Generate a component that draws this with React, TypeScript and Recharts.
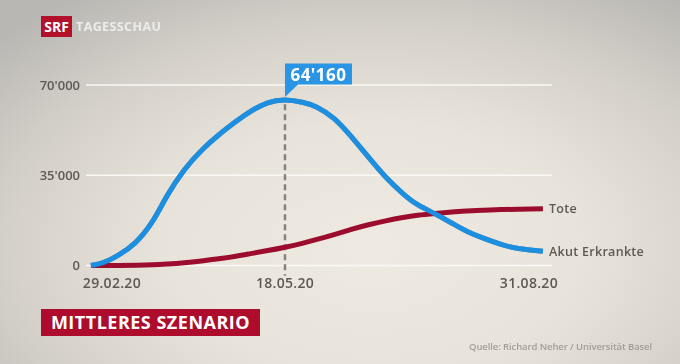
import React from 'react';
import {
  ComposedChart,
  Line,
  XAxis,
  YAxis,
  CartesianGrid,
  ReferenceLine,
  ReferenceDot,
} from 'recharts';

// days since 29.02.20
const days = [0, 5, 11, 18, 25, 31, 38, 45, 52, 59, 65, 72, 79, 86, 92, 99, 106, 113, 120, 127, 133, 140, 147, 153, 160, 167, 174, 184];
const akutErkrankte = [0, 1100, 3900, 8800, 17000, 27000, 37000, 44600, 50600, 55800, 59800, 63100, 64160, 63300, 61400, 57000, 50000, 42000, 34300, 27900, 23600, 20100, 16400, 13300, 10500, 8200, 6600, 5500];
const tote = [0, 0, 0, 100, 250, 550, 1050, 1750, 2600, 3600, 4600, 5800, 7100, 8600, 10100, 12000, 14000, 15800, 17300, 18600, 19500, 20200, 20750, 21100, 21450, 21700, 21850, 22000];

const xTicks = [0, 79, 184];
const xTickLabels = ['29.02.20', '18.05.20', '31.08.20'];
const yTicks = [0, 35000, 70000];
const peakDay = 79;
const peakValue = 64160;
const seriesLabels = { akut: 'Akut Erkrankte', tote: 'Tote' };

const data = days.map((d, i) => ({ day: d, akut: akutErkrankte[i], tote: tote[i] }));

const FONT = '"Open Sans", "Noto Sans", sans-serif';
const TEXT_GRAY = '#5d5853';
const BLUE = '#1c8fe1';
const RED = '#9b0c2d';

const fmt = (n: number) => String(n).replace(/\B(?=(\d{3})+(?!\d))/g, "'");

const xOffsets = [21, 0, -14];

const XTick = (props: any) => {
  const { x, y, payload } = props;
  const i = xTicks.indexOf(payload.value);
  return (
    <text
      x={x + (xOffsets[i] ?? 0)}
      y={y}
      dy="0.71em"
      textAnchor="middle"
      fontFamily={FONT}
      fontWeight={600}
      fontSize={14}
      letterSpacing={0.3}
      fill={TEXT_GRAY}
    >
      {xTickLabels[i] ?? ''}
    </text>
  );
};

const YTick = (props: any) => {
  const { x, y, payload } = props;
  return (
    <text
      x={x}
      y={y}
      dy="0.35em"
      textAnchor="end"
      fontFamily={FONT}
      fontWeight={600}
      fontSize={13}
      fill={TEXT_GRAY}
    >
      {fmt(payload.value)}
    </text>
  );
};

const PeakShape = (props: any) => {
  const { cx, cy } = props;
  const left = cx;
  const right = cx + 67;
  const top = cy - 36.5;
  const bottom = cy - 15.5;
  return (
    <g>
      <path
        d={`M${left},${top} L${right},${top} L${right},${bottom} L${left + 13},${bottom} L${left},${cy - 3} Z`}
        fill="#2a95e4"
      />
      <text
        x={(left + right) / 2}
        y={bottom - 3.5}
        textAnchor="middle"
        fontFamily={FONT}
        fontWeight={700}
        fontSize={17}
        letterSpacing={0.5}
        fill="#ffffff"
      >
        {fmt(peakValue)}
      </text>
    </g>
  );
};

const endLabel = (text: string) => (props: any) => {
  const { x, y, index } = props;
  if (index !== data.length - 1) return null;
  return (
    <text
      x={x + 6}
      y={y}
      dy="0.35em"
      textAnchor="start"
      fontFamily={FONT}
      fontWeight={600}
      fontSize={12.5}
      letterSpacing={0.3}
      fill={TEXT_GRAY}
    >
      {text}
    </text>
  );
};

export default function App() {
  return (
    <div
      style={{
        position: 'fixed',
        left: 0,
        top: 0,
        width: 680,
        height: 364,
        overflow: 'hidden',
        background:
          'radial-gradient(ellipse 75% 85% at 55% 68%, #efeae1 0%, #e9e4db 40%, #d6d2cb 70%, #b9b7b3 100%)',
        fontFamily: FONT,
      }}
    >
      <style>{`.blue-line path { filter: drop-shadow(0.6px 0.8px 0.5px rgba(15,25,45,0.45)); }`}</style>
      {/* logo */}
      <div
        style={{
          position: 'absolute',
          left: 41,
          top: 16,
          width: 31,
          height: 21,
          background: '#b3102c',
          color: '#fff',
          fontWeight: 700,
          fontSize: 14,
          lineHeight: '21px',
          textAlign: 'center',
        }}
      >
        SRF
      </div>
      <div
        style={{
          position: 'absolute',
          left: 76,
          top: 16,
          height: 21,
          lineHeight: '21px',
          color: '#ececea',
          fontWeight: 700,
          fontSize: 12.5,
          letterSpacing: 0.4,
        }}
      >
        TAGESSCHAU
      </div>

      <div style={{ position: 'absolute', left: 0, top: 0 }}>
        <ComposedChart
          width={680}
          height={364}
          data={data}
          margin={{ top: 85, right: 128, left: 0, bottom: 68.5 }}
        >
          <CartesianGrid horizontal vertical={false} stroke="#faf8f4" strokeWidth={1.5} />
          <XAxis
            dataKey="day"
            type="number"
            domain={[-2, 187.7]}
            ticks={xTicks}
            tick={<XTick />}
            tickLine={false}
            axisLine={false}
            tickSize={0}
            tickMargin={13}
            height={30}
            interval={0}
          />
          <YAxis
            type="number"
            domain={[0, 70000]}
            ticks={yTicks}
            tick={<YTick />}
            tickLine={false}
            axisLine={false}
            tickSize={0}
            tickMargin={6}
            width={86}
            interval={0}
          />
          <ReferenceLine
            segment={[
              { x: peakDay, y: 62500 },
              { x: peakDay, y: -4000 },
            ]}
            stroke="#86817a"
            strokeWidth={2.5}
            strokeDasharray="6 4"
            ifOverflow="visible"
          />
          <Line
            dataKey="tote"
            type="natural"
            stroke={RED}
            strokeWidth={5}
            dot={false}
            isAnimationActive={false}
            label={endLabel(seriesLabels.tote)}
          />
          <Line
            className="blue-line"
            dataKey="akut"
            type="natural"
            stroke={BLUE}
            strokeWidth={5}
            dot={false}
            isAnimationActive={false}
            label={endLabel(seriesLabels.akut)}
          />
          <ReferenceDot
            x={peakDay}
            y={peakValue}
            ifOverflow="visible"
            shape={<PeakShape />}
          />
        </ComposedChart>
      </div>

      {/* title */}
      <div
        style={{
          position: 'absolute',
          left: 41,
          top: 309,
          width: 219,
          height: 27,
          background: '#ad0c2d',
          color: '#fff',
          fontWeight: 700,
          fontSize: 18,
          lineHeight: '27px',
          textAlign: 'center',
          whiteSpace: 'nowrap',
          letterSpacing: 0.5,
        }}
      >
        MITTLERES SZENARIO
      </div>

      {/* source */}
      <div
        style={{
          position: 'absolute',
          left: 469,
          top: 340,
          color: '#a29d96',
          fontWeight: 600,
          fontSize: 9.5,
          lineHeight: '14px',
          whiteSpace: 'nowrap',
          letterSpacing: -0.1,
        }}
      >
        Quelle: Richard Neher / Universität Basel
      </div>
    </div>
  );
}
